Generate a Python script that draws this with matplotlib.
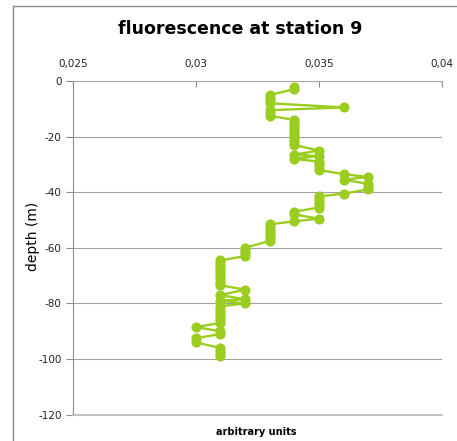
import matplotlib
matplotlib.use("Agg")
import matplotlib.pyplot as plt
from matplotlib.lines import Line2D

plt.rcParams['font.family'] = ['DejaVu Sans']
plt.rcParams['axes.unicode_minus'] = False

# fluorescence (arbitrary units) vs depth (m)
fluor = [0.034, 0.034,
         0.033, 0.033, 0.033, 0.033,
         0.036,
         0.033, 0.033, 0.033,
         0.034, 0.034, 0.034, 0.034, 0.034, 0.034, 0.034, 0.034, 0.034, 0.034,
         0.035, 0.034, 0.035, 0.034,
         0.035, 0.035, 0.035, 0.035,
         0.036, 0.037, 0.036,
         0.037, 0.037, 0.037,
         0.036,
         0.035, 0.035, 0.035, 0.035, 0.035,
         0.034, 0.034, 0.035, 0.034,
         0.033, 0.033, 0.033, 0.033, 0.033, 0.033, 0.033,
         0.032, 0.032, 0.032, 0.032,
         0.031, 0.031, 0.031, 0.031, 0.031, 0.031, 0.031, 0.031, 0.031, 0.031,
         0.032, 0.031, 0.032, 0.031, 0.032,
         0.031, 0.031, 0.031, 0.031, 0.031, 0.031, 0.031,
         0.030, 0.031, 0.031,
         0.030, 0.030,
         0.031, 0.031, 0.031, 0.031]
depth = [-2, -3,
         -5, -6, -7, -8,
         -9.5,
         -10.5, -11.5, -12.5,
         -14, -15, -16, -17, -18, -19, -20, -21, -22, -23,
         -25, -26.5, -27, -28,
         -29, -30, -31, -32,
         -33.5, -34.5, -35.5,
         -37, -38, -39,
         -40.5,
         -41.5, -42.5, -43.5, -44.5, -45.5,
         -47, -48, -49.5, -50.5,
         -51.5, -52.5, -53.5, -54.5, -55.5, -56.5, -57.5,
         -60, -61, -62, -63,
         -64.5, -65.5, -66.5, -67.5, -68.5, -69.5, -70.5, -71.5, -72.5, -73.5,
         -75, -77, -78.5, -79, -80,
         -81, -82, -83, -84, -85, -86, -87,
         -88.5, -90, -91,
         -92.5, -94,
         -96, -97, -98, -99]

xticks = [0.025, 0.03, 0.035, 0.04]
xtick_labels = ['0,025', '0,03', '0,035', '0,04']
yticks = [-120, -100, -80, -60, -40, -20, 0]

W, H = 457, 441
fig = plt.figure(figsize=(W / 100, H / 100), dpi=100)
fig.patch.set_facecolor('white')

# plot area in pixel coords: left 72.7, right 442, top 81, bottom 414.7
ax = fig.add_axes([72.7 / W, 1 - 414.7 / H, (442 - 72.7) / W, (414.7 - 81) / H])

ax.plot(fluor, depth, '-o', color='#9acd1f', lw=1.7, markersize=7.3,
        markeredgewidth=0, clip_on=False, zorder=3)

ax.set_xlim(0.025, 0.04)
ax.set_ylim(-120, 0)
ax.set_xticks(xticks)
ax.set_xticklabels(xtick_labels)
ax.set_yticks(yticks)
ax.set_yticklabels([str(v) for v in yticks])

ax.xaxis.tick_top()
ax.tick_params(axis='x', direction='in', length=4, width=0.8, color='#8c8c8c',
               labelsize=7.5, labelcolor='#222222', pad=9)
ax.tick_params(axis='y', direction='out', length=5, width=0.8, color='#8c8c8c',
               labelsize=7.5, labelcolor='#222222', pad=3)

ax.yaxis.grid(True, color='#a0a0a0', lw=0.8)
ax.set_axisbelow(True)
ax.spines['right'].set_visible(False)
ax.spines['left'].set_color('#8c8c8c')
ax.spines['top'].set_color('#a8a8a8')
ax.spines['bottom'].set_color('#bdbdbd')
ax.spines['bottom'].set_linewidth(1.3)

# chart titles
fig.text(240 / W, 1 - 29 / H, 'fluorescence at station 9', ha='center', va='center',
         fontsize=12.5, fontweight='bold', color='black')
fig.text(256 / W, 1 - 432 / H, 'arbitrary units', ha='center', va='center',
         fontsize=7, fontweight='bold', color='black')
fig.text(33 / W, 1 - 236 / H, 'depth (m)', ha='center', va='center',
         rotation=90, fontsize=10, color='black')

# outer chart border (left and top edges)
fig.add_artist(Line2D([13 / W, 13 / W], [0, 1 - 6 / H], transform=fig.transFigure,
                      color='#8c8c8c', lw=1))
fig.add_artist(Line2D([13 / W, 1], [1 - 6 / H, 1 - 6 / H], transform=fig.transFigure,
                      color='#8c8c8c', lw=1))

fig.savefig('out.png', dpi=100)
